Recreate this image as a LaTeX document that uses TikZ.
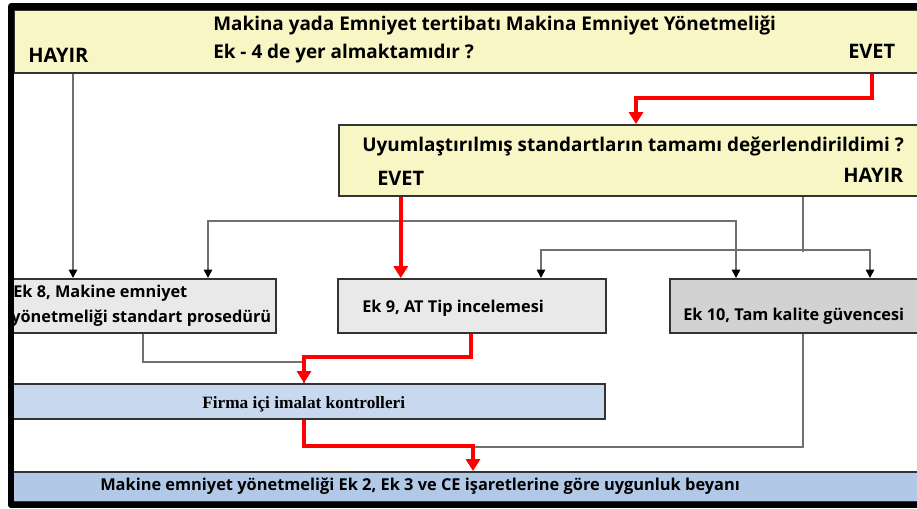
\documentclass[tikz,border=0pt]{standalone}
\usepackage{fontspec}
\setmainfont{Open Sans}
\newfontfamily\serifyazi{Liberation Serif}
\usepackage{tikz}
\usetikzlibrary{positioning, arrows.meta}

\definecolor{sariK}{HTML}{F8F6C4}
\definecolor{griA}{HTML}{E9E9E9}
\definecolor{griK}{HTML}{D2D2D2}
\definecolor{maviA}{HTML}{C8D9EF}
\definecolor{maviK}{HTML}{B1C8E6}
\definecolor{cizgi}{HTML}{707070}

\tikzset{
    kutu/.style={draw=black!80, line width=1.4pt, inner sep=0pt},
    yazi/.style={inner sep=0pt, anchor=base west, font=\bfseries\fontsize{13.45}{15}\selectfont},
    cyazi/.style={inner sep=0pt, anchor=base west, font=\bfseries\fontsize{14.2}{16}\selectfont},
    kyazi/.style={inner sep=0pt, anchor=base west, font=\bfseries\fontsize{11.6}{14}\selectfont},
    gok/.style={draw=cizgi, line width=1.1pt, -{Triangle[black,width=6pt,length=6pt]}},
    gcift/.style={draw=cizgi, line width=1.1pt, {Triangle[black,width=6pt,length=6pt]}-{Triangle[black,width=6pt,length=6pt]}},
    gcizgi/.style={draw=cizgi, line width=1.1pt},
    kok/.style={draw=red, line width=2.9pt, -{Triangle[width=10pt,length=8.5pt]}}
}

\begin{document}
\begin{tikzpicture}[x=0.025cm, y=-0.025cm]
        \clip (0,0) rectangle (917,508);
        \fill[white] (0,0) rectangle (917,508);
        % Boxes
        \node[kutu, fill=sariK, minimum width=22.775cm, minimum height=1.575cm] (q1) at (469.5,41.5) {};
        \node[kutu, fill=sariK, minimum width=14.65cm, minimum height=1.775cm] (q2) at (632,160.5) {};
        \node[kutu, fill=griA, minimum width=6.65cm, minimum height=1.35cm] (e8) at (143,306) {};
        \node[kutu, fill=griA, minimum width=6.7cm, minimum height=1.35cm] (e9) at (472,306) {};
        \node[kutu, fill=griK, minimum width=6.375cm, minimum height=1.35cm] (e10) at (797.5,306) {};
        \node[kutu, fill=maviA, minimum width=14.875cm, minimum height=0.875cm] (fk) at (307.5,401.5) {};
        \node[kutu, fill=maviK, minimum width=22.875cm, minimum height=0.75cm] (uy) at (467.5,487) {};
        % Texts
        \node[yazi] (t1) at (213,30) {Makina yada Emniyet tertibatı Makina Emniyet Yönetmeliği};
        \node[yazi] (t2) at (213,58) {Ek - 4 de yer almaktamıdır ?};
        \node[cyazi] (h1) at (28,62) {HAYIR};
        \node[cyazi] (ev1) at (848,58) {EVET};
        \node[yazi] (t3) at (362,151) {Uyumlaştırılmış standartların tamamı değerlendirildimi ?};
        \node[cyazi] (ev2) at (377,185) {EVET};
        \node[cyazi] (h2) at (843,182) {HAYIR};
        \node[kyazi] (t8a) at (13,297) {Ek 8, Makine emniyet};
        \node[kyazi] (t8b) at (11,322) {yönetmeliği standart prosedürü};
        \node[kyazi] (t9) at (362,312) {Ek 9, AT Tip incelemesi};
        \node[kyazi] (t10) at (683,320) {Ek 10, Tam kalite güvencesi};
        \node[inner sep=0pt, anchor=base west, font=\serifyazi\bfseries\fontsize{12.3}{14}\selectfont] (tfk) at (202,408) {Firma içi imalat kontrolleri};
        \node[inner sep=0pt, anchor=base west, font=\bfseries\fontsize{11.65}{13}\selectfont] (tuy) at (100,490) {Makine emniyet yönetmeliği Ek 2, Ek 3 ve CE işaretlerine göre uygunluk beyanı};
        % Columns
        \coordinate (c1) at (73,0);
        \coordinate (c2) at (208,0);
        \coordinate (c3) at (736,0);
        \coordinate (c4) at (803,0);
        \coordinate (c5) at (541,0);
        \coordinate (c6) at (870,0);
        \coordinate (c7) at (636,0);
        \coordinate (c8) at (143,0);
        \coordinate (c9) at (471,0);
        \coordinate (c10) at (304,0);
        \coordinate (c11) at (473,0);
        % Gray connectors
        \draw[gok] (q1.south -| c1) -- (e8.north -| c1);
        \draw[gcift] (e8.north -| c2) -- ++(0,-57) -| (e10.north -| c3);
        \draw[gcizgi] (q2.south -| c4) -- ++(0,55);
        \draw[gcift] (e9.north -| c5) -- ++(0,-28) -| (e10.north -| c6);
        \draw[gcizgi] (e8.south -| c8) -- ++(0,28) -| (fk.north -| c10);
        \draw[gcizgi] (e10.south -| c4) -- ++(0,113) coordinate (k1) -- (k1 -| c11);
        % Red connectors
        \draw[kok] (q1.south -| ev1) -- ++(0,24) -| (q2.north -| c7);
        \draw[kok] (q2.south -| ev2) -- (e9.north -| ev2);
        \draw[kok] (e9.south -| c9) -- ++(0,23) -| (fk.north -| c10);
        \draw[kok] (fk.south -| c10) -- ++(0,26) -| (uy.north -| c11);
        % Frame
        \draw[line width=4.6pt, line join=round] (930,6.5) -- (11,6.5) -- (11,505) -- (930,505);
\end{tikzpicture}
\end{document}
